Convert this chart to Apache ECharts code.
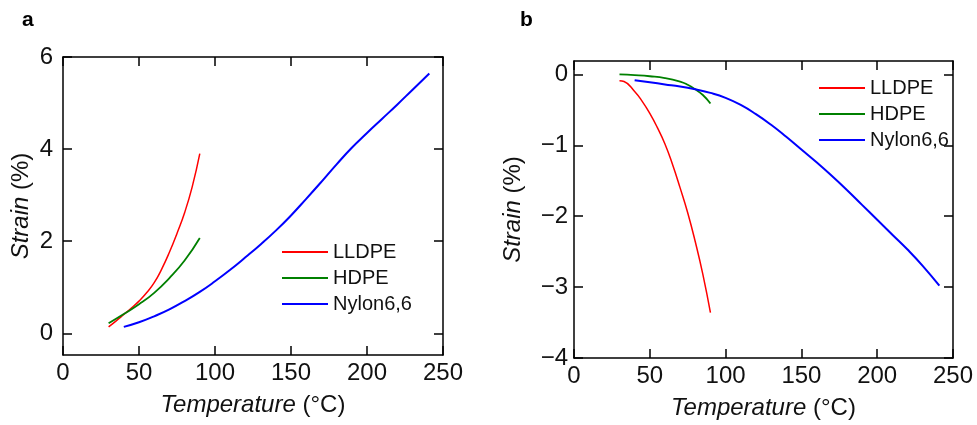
<!DOCTYPE html>
<html><head><meta charset="utf-8">
<script src="https://cdn.jsdelivr.net/npm/echarts@6/dist/echarts.min.js"></script>
<style>html,body{margin:0;padding:0;background:#fff}#c{width:977px;height:425px}</style>
</head><body><div id="c"></div>
<script>
// Panel a (heating)
const aLLDPE_T = [30, 35, 40, 45, 50, 55, 60, 65, 70, 75, 80, 85, 90];
const aLLDPE_S = [0.14, 0.27, 0.41, 0.55, 0.7, 0.88, 1.1, 1.4, 1.76, 2.17, 2.62, 3.18, 3.9];
const aHDPE_T = [30, 40, 50, 60, 70, 80, 90];
const aHDPE_S = [0.22, 0.42, 0.63, 0.88, 1.2, 1.58, 2.07];
const aNylon_T = [40, 50, 60, 70, 80, 90, 100, 110, 120, 130, 140, 150, 160, 170, 180, 190, 200, 210, 220, 230, 241];
const aNylon_S = [0.14, 0.24, 0.37, 0.52, 0.7, 0.9, 1.13, 1.38, 1.65, 1.93, 2.23, 2.56, 2.92, 3.29, 3.67, 4.03, 4.35, 4.66, 4.97, 5.29, 5.64];
// Panel b (cooling)
const bLLDPE_T = [30, 33, 40, 45, 50, 55, 60, 65, 70, 75, 80, 85, 90];
const bLLDPE_S = [-0.09, -0.1, -0.24, -0.38, -0.55, -0.75, -0.98, -1.27, -1.6, -1.95, -2.36, -2.82, -3.36];
const bHDPE_T = [30, 40, 50, 60, 70, 75, 80, 85, 90];
const bHDPE_S = [0, -0.01, -0.025, -0.05, -0.1, -0.145, -0.21, -0.29, -0.41];
const bNylon_T = [40, 50, 60, 70, 80, 90, 100, 110, 120, 130, 140, 150, 160, 170, 180, 190, 200, 210, 220, 230, 241];
const bNylon_S = [-0.08, -0.11, -0.14, -0.17, -0.21, -0.26, -0.33, -0.43, -0.56, -0.71, -0.88, -1.06, -1.24, -1.43, -1.63, -1.84, -2.05, -2.26, -2.47, -2.7, -2.98];

const seriesNames = ['LLDPE', 'HDPE', 'Nylon6,6'];
const colors = ['#ff0000', '#008000', '#0000ff'];
const xTicks = [0, 50, 100, 150, 200, 250];
const yTicksA = [0, 2, 4, 6];
const yTicksB = [-4, -3, -2, -1, 0];

const FONT = '"Liberation Sans", Arial, sans-serif';
const zip = (t, s) => t.map((v, i) => [v, s[i]]);
const minus = v => (v < 0 ? '\u2212' + Math.abs(v) : String(v));
const AX = { show: true, onZero: false, lineStyle: { color: '#000', width: 1.5 } };
const tick = vals => ({ show: true, inside: true, length: 9, lineStyle: { color: '#000', width: 1.5 }, customValues: vals });
const nameStyle = { color: '#111', fontSize: 24, fontFamily: FONT,
  rich: { i: { fontStyle: 'italic', fontSize: 24, fontFamily: FONT, color: '#111' } } };

function xAxes(grid) {
  return [
    { type: 'value', gridIndex: grid, min: 0, max: 250, position: 'bottom',
      axisLine: AX, axisTick: tick(xTicks),
      axisLabel: { color: '#111', fontSize: 24, fontFamily: FONT, margin: 6, customValues: xTicks, formatter: minus },
      splitLine: { show: false },
      name: '{i|Temperature} (°C)', nameLocation: 'middle', nameGap: 38, nameTextStyle: nameStyle },
    { type: 'value', gridIndex: grid, min: 0, max: 250, position: 'top',
      axisLine: AX, axisTick: tick(xTicks), axisLabel: { show: false }, splitLine: { show: false } }
  ];
}
function yAxes(grid, min, max, ticks, margin, gap) {
  return [
    { type: 'value', gridIndex: grid, min: min, max: max, position: 'left',
      axisLine: AX, axisTick: tick(ticks),
      axisLabel: { color: '#111', fontSize: 24, fontFamily: FONT, margin: margin, customValues: ticks, formatter: minus },
      splitLine: { show: false },
      name: '{i|Strain} (%)', nameLocation: 'middle', nameGap: gap, nameRotate: 90, nameTextStyle: nameStyle },
    { type: 'value', gridIndex: grid, min: min, max: max, position: 'right',
      axisLine: AX, axisTick: tick(ticks), axisLabel: { show: false }, splitLine: { show: false } }
  ];
}
function line(name, color, data, xi, yi, w) {
  return { type: 'line', name: name, data: data, xAxisIndex: xi, yAxisIndex: yi,
    showSymbol: false, smooth: 0.5, color: color, lineStyle: { color: color, width: w }, z: 3 };
}
function legend(left, top) {
  return { data: seriesNames, orient: 'vertical', left: left, top: top, icon: 'rect',
    itemWidth: 46, itemHeight: 2, itemGap: 6, padding: 0,
    textStyle: { color: '#111', fontSize: 20, fontFamily: FONT, lineHeight: 19, padding: [0, 0, 0, 0] } };
}

const chart = echarts.init(document.getElementById('c'), null, { renderer: 'canvas' });
chart.setOption({
  animation: false,
  backgroundColor: '#fff',
  grid: [
    { left: 63, top: 57, width: 380, height: 298 },
    { left: 574, top: 61, width: 379, height: 297 }
  ],
  xAxis: [...xAxes(0), ...xAxes(1)],
  yAxis: [...yAxes(0, -0.47, 6, yTicksA, 10, 30), ...yAxes(1, -4, 0.19, yTicksB, 6, 49)],
  legend: [legend(282, 242), legend(819, 78)],
  series: [
    line('LLDPE', colors[0], zip(aLLDPE_T, aLLDPE_S), 0, 0, 1.5),
    line('HDPE', colors[1], zip(aHDPE_T, aHDPE_S), 0, 0, 1.8),
    line('Nylon6,6', colors[2], zip(aNylon_T, aNylon_S), 0, 0, 2),
    line('LLDPE', colors[0], zip(bLLDPE_T, bLLDPE_S), 2, 2, 1.5),
    line('HDPE', colors[1], zip(bHDPE_T, bHDPE_S), 2, 2, 1.8),
    line('Nylon6,6', colors[2], zip(bNylon_T, bNylon_S), 2, 2, 2)
  ],
  graphic: [
    { type: 'text', left: 22, top: 10, style: { text: 'a', fontSize: 21, fontWeight: 'bold', fontFamily: FONT, fill: '#000' } },
    { type: 'text', left: 520, top: 10, style: { text: 'b', fontSize: 21, fontWeight: 'bold', fontFamily: FONT, fill: '#000' } }
  ]
});
</script></body></html>
